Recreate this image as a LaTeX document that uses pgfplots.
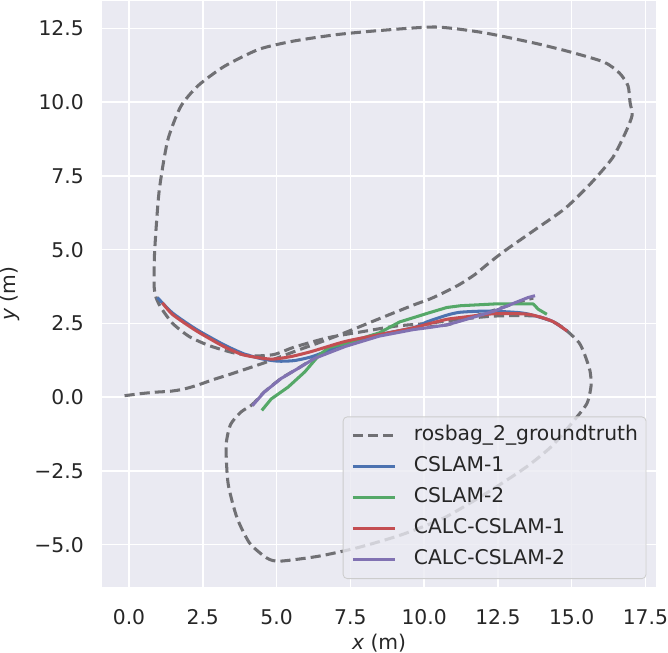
\documentclass[border=0pt]{standalone}
\usepackage{fontspec}
\setmainfont{DejaVu Sans}
\usepackage{pgfplots}
\pgfplotsset{compat=1.18}
\definecolor{sbbg}{HTML}{EAEAF2}
\definecolor{sbtext}{HTML}{262626}
\definecolor{sbblue}{HTML}{4C72B0}
\definecolor{sbgreen}{HTML}{55A868}
\definecolor{sbred}{HTML}{C44E52}
\definecolor{sbpurple}{HTML}{8172B2}
\definecolor{gtgray}{HTML}{707074}

\begin{document}
\fontsize{20}{24}\selectfont
\begin{tikzpicture}
\begin{axis}[
    scale only axis,
    width=546pt, height=578pt,
    xmin=-0.91, xmax=17.86,
    ymin=-6.44, ymax=13.44,
    axis background/.style={fill=sbbg},
    axis line style={draw=none},
    tick style={draw=none},
    grid=major,
    major grid style={white, line width=1.5pt},
    xtick={0,2.5,5,7.5,10,12.5,15,17.5},
    xticklabels={0.0,2.5,5.0,7.5,10.0,12.5,15.0,17.5},
    ytick={-5,-2.5,0,2.5,5,7.5,10,12.5},
    yticklabels={−5.0,−2.5,0.0,2.5,5.0,7.5,10.0,12.5},
    every tick label/.append style={text=sbtext},
    xticklabel style={inner sep=0pt, yshift=-22pt},
    yticklabel style={inner sep=0pt, xshift=-18pt},
    xlabel={{\itshape x} (m)},
    ylabel={{\itshape y} (m)},
    xlabel style={at={(axis description cs:0.5,0)}, anchor=north, yshift=-46pt, inner sep=0pt, text=sbtext},
    ylabel style={at={(axis description cs:-0.1667,0.5)}, anchor=center, inner sep=0pt, text=sbtext},
    legend cell align=left,
    legend image code/.code={\draw[#1] (0pt,0pt) -- (42pt,0pt);},
    legend style={
        at={(axis description cs:1,0)}, anchor=south east,
        xshift=-9.5pt, yshift=8pt,
        fill=sbbg, fill opacity=0.8, text opacity=1,
        draw=black!20, line width=0.8pt, rounded corners=4pt,
        inner xsep=8pt, inner ysep=8.5pt, row sep=10.6pt,
        nodes={inner sep=0pt, text height=15pt, text depth=5pt, text=sbtext},
        /tikz/every odd column/.append style={column sep=16.7pt},
    },
    every axis plot/.append style={line width=3pt, line join=round},
]
\addplot[gtgray, dash pattern=on 10pt off 5pt, smooth, tension=0.4] coordinates {
(-0.15,0.05) (0.4,0.12) (0.91,0.17) (1.4,0.2) (1.84,0.27) (2.3,0.4) (2.87,0.6)
(3.44,0.78) (4.01,0.97) (4.6,1.17) (5.16,1.38) (5.8,1.62) (6.31,1.8) (7.0,2.06)
(7.6,2.3) (8.48,2.66) (9.63,3.12) (10.2,3.33) (10.68,3.55) (11.2,3.82) (11.71,4.15)
(12.2,4.55) (12.73,4.96) (13.76,5.68) (14.78,6.4) (15.66,7.26) (16.39,8.12)
(16.83,8.98) (17.05,9.56) (16.98,9.99) (16.91,10.56) (16.62,10.99) (16.1,11.36)
(14.93,11.71) (13.76,12.0) (12.0,12.36) (10.39,12.55) (8.49,12.43) (7.02,12.29)
(5.56,12.07) (4.39,11.79) (3.22,11.21) (2.34,10.56) (1.75,9.85) (1.31,8.7)
(1.02,6.97) (0.87,4.96) (0.85,3.8) (0.91,3.4) (1.08,3.04) (1.48,2.5) (2.05,2.05)
(2.74,1.74) (3.56,1.5) (4.25,1.4) (4.93,1.45) (5.61,1.7) (6.76,2.02) (7.9,2.22)
(9.05,2.41) (10.09,2.5) (11.23,2.64) (12.38,2.75) (13.76,2.75) (14.45,2.52)
(14.85,2.24) (15.25,1.85) (15.44,1.45) (15.62,0.9) (15.66,0.4) (15.52,-0.21)
(15.08,-0.79) (14.34,-1.65) (13.46,-2.37) (12.15,-3.23) (10.68,-4.09) (9.22,-4.67)
(7.76,-5.1) (6.44,-5.39) (5.12,-5.56) (4.68,-5.46) (4.09,-4.95) (3.66,-4.09)
(3.36,-2.94) (3.29,-1.65) (3.44,-0.93) (3.8,-0.5) (4.18,-0.25) (4.58,0.17)
(5.15,0.63) (5.72,0.97) (6.3,1.32) (7.33,1.75) (8.48,2.1) (9.63,2.32) (10.77,2.45)
(11.23,2.6) (12.38,2.95) (13.3,3.25) (13.7,3.36)
};
\addlegendentry{rosbag\_2\_groundtruth}
\addplot[sbblue, smooth, tension=0.4] coordinates {
(0.96,3.38) (1.48,2.85) (2.28,2.3) (3.21,1.78) (3.89,1.47) (4.5,1.3) (5.04,1.22)
(5.6,1.24) (6.19,1.37) (6.8,1.6) (7.33,1.83) (8.48,2.12) (9.63,2.35) (10.09,2.55)
(10.77,2.78) (11.23,2.88) (12.15,2.92) (13.18,2.87) (13.6,2.8) (14.33,2.58) (14.85,2.24)
};
\addlegendentry{CSLAM-1}
\addplot[sbgreen] coordinates {
(4.5,-0.45) (4.82,-0.06) (5.39,0.34) (5.96,0.86) (6.42,1.4) (6.76,1.68) (7.33,1.82)
(8.48,2.18) (9.17,2.55) (10.2,2.87) (10.77,3.04) (11.23,3.1) (12.38,3.16) (13.7,3.16)
(13.87,2.98) (14.16,2.81)
};
\addlegendentry{CSLAM-2}
\addplot[sbred, smooth, tension=0.4] coordinates {
(1.13,3.2) (1.48,2.8) (2.28,2.25) (3.21,1.72) (3.89,1.43) (4.81,1.29) (5.5,1.38)
(6.19,1.55) (7.33,1.89) (8.48,2.12) (9.63,2.35) (10.09,2.47) (10.77,2.64) (11.23,2.7)
(12.38,2.83) (13.53,2.81) (14.33,2.58) (14.85,2.24)
};
\addlegendentry{CALC-CSLAM-1}
\addplot[sbpurple] coordinates {
(4.18,-0.29) (4.58,0.17) (5.15,0.63) (5.72,0.97) (6.3,1.32) (7.33,1.72) (8.48,2.07)
(9.63,2.29) (10.09,2.35) (10.77,2.45) (11.23,2.58) (12.38,2.92) (13.53,3.38) (13.76,3.44)
};
\addlegendentry{CALC-CSLAM-2}
\path (axis description cs:-0.2015,-0.1263) rectangle (axis description cs:1.022,1.0069);
\end{axis}
\end{tikzpicture}
\end{document}
